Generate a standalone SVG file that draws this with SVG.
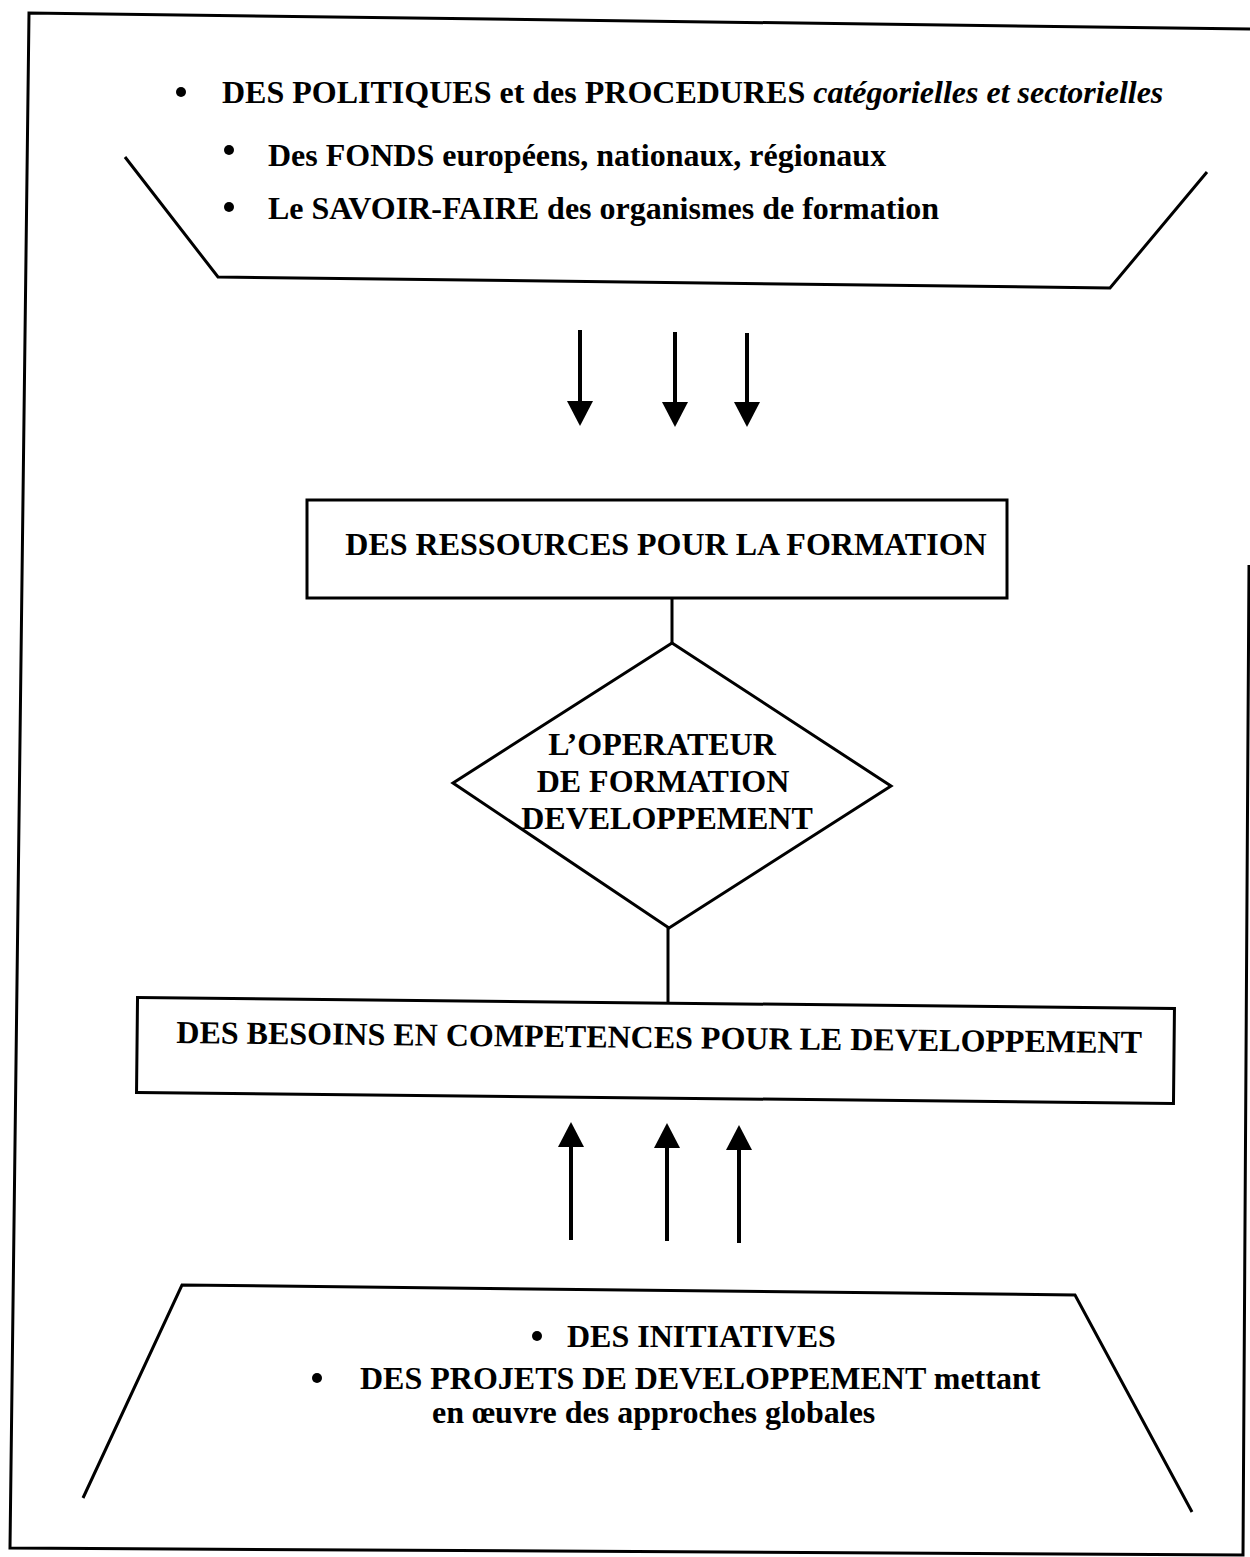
<svg xmlns="http://www.w3.org/2000/svg" width="1250" height="1557" viewBox="0 0 1250 1557">
<style>
.ln{stroke:#000;stroke-width:3;fill:none;stroke-linejoin:miter}
.sh{stroke:#000;stroke-width:4;fill:none}
.t{font-family:"Liberation Serif","Times New Roman",serif;font-weight:bold;font-size:32px;fill:#000}
.it{font-style:italic}
.bul{fill:#000}
</style>
<defs>
<marker id="ah" markerUnits="userSpaceOnUse" markerWidth="26" markerHeight="26" viewBox="0 0 26 26" refX="3" refY="13" orient="auto">
<path d="M0,0 L25,13 L0,26 z" fill="#000"/>
</marker>
</defs>
<rect width="1250" height="1557" fill="#fff"/>
<g id="frame">
<polyline class="ln" points="1250,29 29,13 10,1548 1243,1555 1249,565"/>
</g>
<g id="sources">
<polyline class="ln" points="125,157 218,277 1110,288 1207,172"/>
<circle class="bul" cx="181" cy="92" r="5"/>
<text class="t" x="222" y="103">DES POLITIQUES et des PROCEDURES <tspan class="it">catégorielles et sectorielles</tspan></text>
<circle class="bul" cx="229" cy="150" r="5"/>
<text class="t" x="268" y="166">Des FONDS européens, nationaux, régionaux</text>
<circle class="bul" cx="229" cy="207" r="5"/>
<text class="t" x="268" y="219">Le SAVOIR-FAIRE des organismes de formation</text>
</g>
<g id="ressources">
<rect class="ln" x="307" y="500" width="700" height="98"/>
<text class="t" x="666" y="555" text-anchor="middle">DES RESSOURCES POUR LA FORMATION</text>
</g>
<g id="operateur">
<polygon class="ln" points="672,643 891,786 669,928 453,783"/>
<text class="t" text-anchor="middle"><tspan x="662" y="755">L’OPERATEUR</tspan><tspan x="663" y="792">DE FORMATION</tspan><tspan x="667" y="829">DEVELOPPEMENT</tspan></text>
</g>
<g id="besoins" transform="rotate(0.6 655.5 1050.5)">
<rect class="ln" x="137" y="1003" width="1037" height="95"/>
<text class="t" x="659" y="1048" text-anchor="middle">DES BESOINS EN COMPETENCES POUR LE DEVELOPPEMENT</text>
</g>
<g id="initiatives">
<polyline class="ln" points="83,1498 182,1285 1075,1295 1192,1512"/>
<circle class="bul" cx="537" cy="1336" r="5"/>
<text class="t" x="567" y="1347">DES INITIATIVES</text>
<circle class="bul" cx="317" cy="1378" r="5"/>
<text class="t" x="360" y="1389">DES PROJETS DE DEVELOPPEMENT mettant</text>
<text class="t" x="432" y="1423">en œuvre des approches globales</text>
</g>
<g id="connectors">
<line class="sh" x1="580" y1="330" x2="580" y2="404" marker-end="url(#ah)"/>
<line class="sh" x1="675" y1="332" x2="675" y2="405" marker-end="url(#ah)"/>
<line class="sh" x1="747" y1="333" x2="747" y2="405" marker-end="url(#ah)"/>
<line class="ln" x1="672" y1="598" x2="672" y2="643"/>
<line class="ln" x1="668" y1="928" x2="668" y2="1003"/>
<line class="sh" x1="571" y1="1240" x2="571" y2="1144" marker-end="url(#ah)"/>
<line class="sh" x1="667" y1="1241" x2="667" y2="1145" marker-end="url(#ah)"/>
<line class="sh" x1="739" y1="1243" x2="739" y2="1147" marker-end="url(#ah)"/>
</g>
</svg>
